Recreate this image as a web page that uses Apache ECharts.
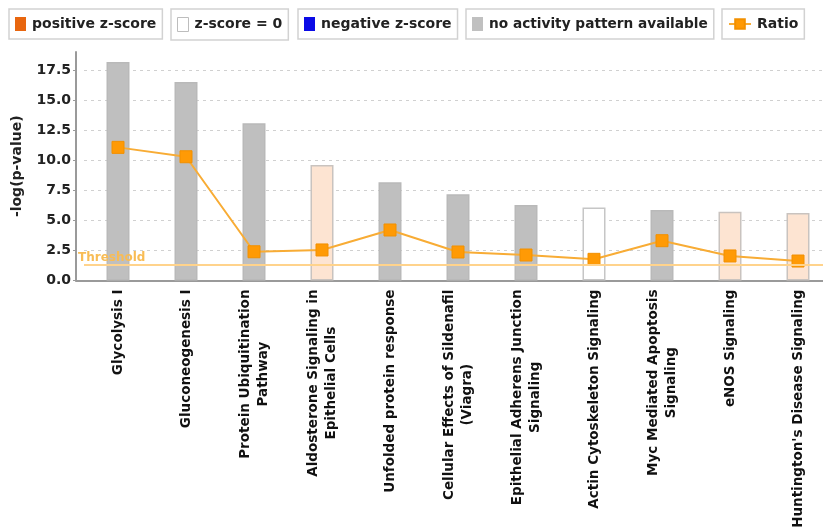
<!DOCTYPE html>
<html>
<head>
<meta charset="utf-8">
<script src="https://cdn.jsdelivr.net/npm/echarts@6/dist/echarts.min.js"></script>
<style>
  html, body { margin: 0; padding: 0; background: #fff; }
  #chart { width: 823px; height: 527px; }
</style>
</head>
<body>
<div id="chart"></div>
<script>
// Canonical pathways, ordered by significance
const categories = [
  'Glycolysis I',
  'Gluconeogenesis I',
  'Protein Ubiquitination\nPathway',
  'Aldosterone Signaling in\nEpithelial Cells',
  'Unfolded protein response',
  'Cellular Effects of Sildenafil\n(Viagra)',
  'Epithelial Adherens Junction\nSignaling',
  'Actin Cytoskeleton Signaling',
  'Myc Mediated Apoptosis\nSignaling',
  'eNOS Signaling',
  "Huntington's Disease Signaling"
];

// -log(p-value) per pathway
const negLogP = [18.16, 16.5, 13.07, 9.6, 8.16, 7.17, 6.28, 6.08, 5.86, 5.72, 5.61];

// z-score group per pathway
const zGroup = ['none', 'none', 'none', 'positive', 'none', 'none', 'none', 'zero', 'none', 'positive', 'positive'];

// Ratio line values
const ratio = [11.07, 10.29, 2.39, 2.54, 4.2, 2.37, 2.12, 1.76, 3.31, 2.04, 1.62];

// Significance threshold, -log(0.05)
const threshold = 1.3;

// y-axis ticks
const yMin = 0, yMax = 19, yStep = 2.5;

const FONT = 'DejaVu Sans';

const groups = [
  { key: 'positive', name: 'positive z-score', fill: '#fde4d2', border: '#c9c3bf', icon: { color: '#e8660f', borderWidth: 0 } },
  { key: 'zero', name: 'z-score = 0', fill: '#ffffff', border: '#c6c6c6', icon: { color: '#ffffff', borderColor: '#bdbdbd', borderWidth: 1 } },
  { key: 'negative', name: 'negative z-score', fill: '#1010e0', border: '#c6c6c6', icon: { color: '#0b0be6', borderWidth: 0 } },
  { key: 'none', name: 'no activity pattern available', fill: '#bfbfbf', border: '#b9b9b9', icon: { color: '#c0c0c0', borderWidth: 0 } }
];

const barSeries = groups.map(g => ({
  name: g.name,
  type: 'bar',
  stack: 'p',
  barWidth: 23,
  itemStyle: { color: g.fill, borderColor: g.border, borderWidth: 1.5 },
  data: negLogP.map((v, i) => (zGroup[i] === g.key ? v : '-')),
  z: 2
}));

const lineSeries = {
  name: 'Ratio',
  type: 'line',
  data: ratio,
  symbol: 'rect',
  symbolSize: 12,
  lineStyle: { color: '#f8ac35', width: 2 },
  itemStyle: { color: '#ff9a05', borderColor: '#f29000', borderWidth: 1 },
  z: 4,
  markLine: {
    silent: true,
    symbol: 'none',
    lineStyle: { color: '#ffd38c', width: 2, type: 'solid' },
    label: {
      position: 'insideStartTop',
      formatter: 'Threshold',
      color: '#f8bc55',
      fontFamily: FONT,
      fontWeight: 'bold',
      fontSize: 12,
      distance: [-6, 1]
    },
    data: [{ yAxis: threshold }]
  }
};

const legendTop = 9;
function legendBox(name, left, icon, extra) {
  return Object.assign({
    left: left,
    top: legendTop,
    orient: 'horizontal',
    padding: [8, 6, 8, 6],
    borderColor: '#d2d2d2',
    borderWidth: 1.5,
    borderRadius: 0,
    itemWidth: 11,
    itemHeight: 14,
    itemGap: 6,
    selectedMode: false,
    textStyle: { fontFamily: FONT, fontWeight: 'bold', fontSize: 14, color: '#222', padding: [0, 0, 0, 1] },
    data: [icon ? { name: name, icon: 'rect', itemStyle: icon } : { name: name }]
  }, extra || {});
}

const legends = [
  legendBox(groups[0].name, 9, groups[0].icon),
  legendBox(groups[1].name, 171, groups[1].icon),
  legendBox(groups[2].name, 298, groups[2].icon),
  legendBox(groups[3].name, 466, groups[3].icon, { textStyle: { fontFamily: FONT, fontWeight: 'bold', fontSize: 13.7, color: '#222', padding: [0, 0, 0, 1] } }),
  legendBox('Ratio', 722, null, { itemWidth: 22, itemHeight: 12 })
];

const plotTop = 52, plotHeight = 228.5;

const chart = echarts.init(document.getElementById('chart'), null, { renderer: 'canvas' });

chart.setOption({
  animation: false,
  backgroundColor: '#ffffff',
  legend: legends,
  grid: [
    { left: 84, top: plotTop, width: 748, height: plotHeight, containLabel: false, outerBoundsMode: 'none' },
    // baseline grid, runs from the y-axis line to the right edge
    { left: 76, top: plotTop, right: 0, height: plotHeight, containLabel: false, outerBoundsMode: 'none' }
  ],
  xAxis: [
    {
      type: 'category',
      gridIndex: 0,
      data: categories,
      boundaryGap: true,
      axisLine: { show: false },
      axisTick: { show: false },
      axisLabel: {
        interval: 0,
        rotate: 90,
        margin: 9,
        formatter: v => v.split('\n').map(s => '{c|' + s + '}').join('\n'),
        rich: {
          c: { align: 'center', fontFamily: FONT, fontWeight: 'bold', fontSize: 13.5, color: '#111', lineHeight: 18 }
        }
      }
    },
    {
      type: 'value',
      gridIndex: 1,
      min: 0,
      max: 1,
      axisLine: { show: true, onZero: false, lineStyle: { color: '#9a9a9a', width: 2 } },
      axisTick: { show: false },
      axisLabel: { show: false },
      splitLine: { show: false }
    }
  ],
  yAxis: [
    {
      type: 'value',
      gridIndex: 0,
      min: yMin,
      max: yMax,
      interval: yStep,
      offset: 8,
      name: '-log(p-value)',
      nameLocation: 'middle',
      nameRotate: 90,
      nameGap: 52,
      nameTextStyle: { fontFamily: FONT, fontWeight: 'bold', fontSize: 14, color: '#222' },
      axisLine: { show: true, lineStyle: { color: '#9a9a9a', width: 2 } },
      axisTick: { show: true, length: 3, lineStyle: { color: '#9a9a9a' } },
      axisLabel: {
        showMaxLabel: false,
        margin: 5,
        formatter: v => v.toFixed(1),
        fontFamily: FONT,
        fontWeight: 'bold',
        fontSize: 14,
        color: '#222'
      },
      splitLine: { show: true, showMaxLine: false, lineStyle: { color: '#d0d0d0', type: [3, 4], width: 1 } }
    },
    {
      type: 'value',
      gridIndex: 1,
      min: yMin,
      max: yMax,
      show: false
    }
  ],
  series: barSeries.concat([lineSeries])
});
</script>
</body>
</html>
